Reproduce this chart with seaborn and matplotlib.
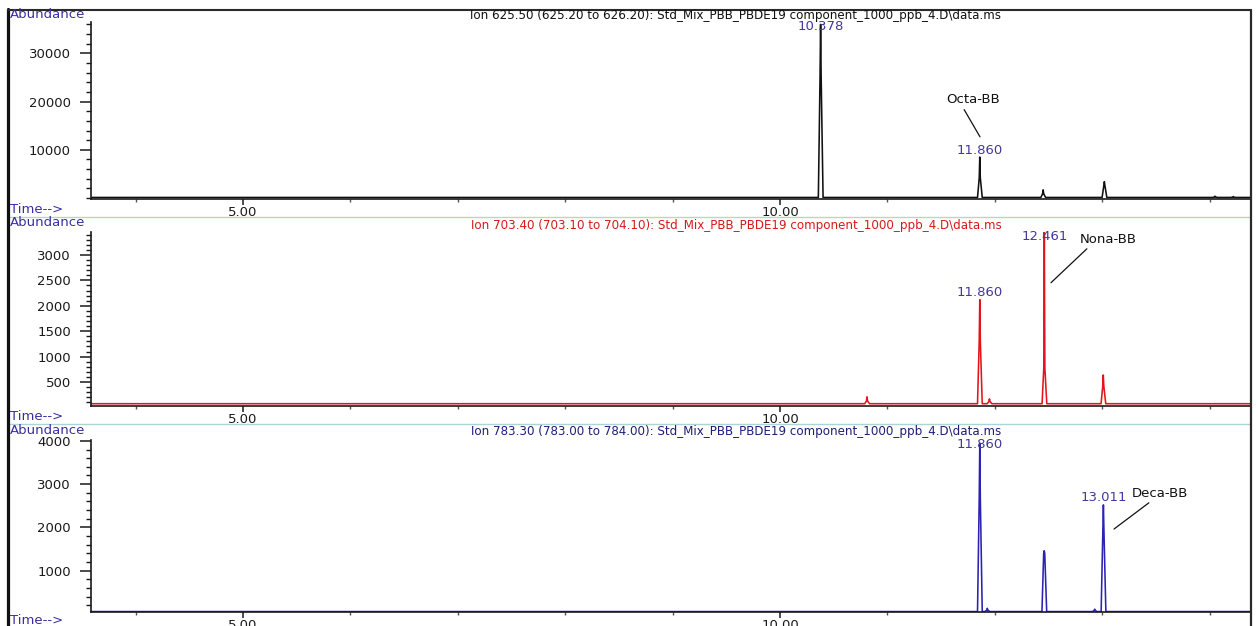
import numpy as np
import pandas as pd
import matplotlib
matplotlib.use("Agg")
import matplotlib.pyplot as plt
from matplotlib.ticker import FixedLocator, MultipleLocator, NullFormatter
from matplotlib.lines import Line2D
import seaborn as sns

# ---------------------------------------------------------------------------
# Extracted-ion chromatograms, Std_Mix_PBB_PBDE19 component 1000 ppb
# retention time in minutes, abundance in counts
# ---------------------------------------------------------------------------
ion_titles = [
    "Ion 625.50 (625.20 to 626.20): Std_Mix_PBB_PBDE19 component_1000_ppb_4.D\\data.ms",
    "Ion 703.40 (703.10 to 704.10): Std_Mix_PBB_PBDE19 component_1000_ppb_4.D\\data.ms",
    "Ion 783.30 (783.00 to 784.00): Std_Mix_PBB_PBDE19 component_1000_ppb_4.D\\data.ms",
]

# Ion 625.50
rt_625 = [10.378, 11.860, 12.45, 13.02, 14.05, 14.22]
apex_625 = [36000, 8500, 1700, 3400, 380, 300]
shoulder_625 = [25500, 4200, 900, 2600, 220, 180]
baseline_625 = 120
labelled_625 = [10.378, 11.860]

# Ion 703.40
rt_703 = [10.81, 11.860, 11.95, 12.461, 13.01]
apex_703 = [210, 2120, 170, 3450, 640]
shoulder_703 = [130, 1320, 120, 780, 420]
baseline_703 = 75
labelled_703 = [11.860, 12.461]

# Ion 783.30
rt_783 = [11.860, 11.93, 12.46, 12.93, 13.011]
apex_783 = [3950, 130, 1460, 110, 2520]
shoulder_783 = [2700, 90, 1400, 80, 1940]
baseline_783 = 55
labelled_783 = [11.860, 13.011]

# y-axis tick values
yticks_625 = [10000, 20000, 30000]
yticks_703 = [500, 1000, 1500, 2000, 2500, 3000]
yticks_783 = [1000, 2000, 3000, 4000]

# x-axis tick labels
xtick_values = [5.0, 10.0]
xtick_labels = ["5.00", "10.00"]

# compound names marked on the traces
compounds = ["Octa-BB", "Nona-BB", "Deca-BB"]

# ---------------------------------------------------------------------------
W, H = 1258, 626
T0, T1 = 3.585, 14.376

sns.set_theme(style="white")
plt.rcParams["font.family"] = ["DejaVu Sans"]

fig = plt.figure(figsize=(W / 100, H / 100), dpi=100)
fig.patch.set_facecolor("white")


def axes_rect(left, top, right, bottom):
    return [left / W, 1 - bottom / H, (right - left) / W, (bottom - top) / H]


def build_trace(rts, apex, shoulder, base):
    t, y = [T0], [base]
    for r, h, s in sorted(zip(rts, apex, shoulder)):
        t += [r - 0.021, r - 0.005, r, r + 0.005, r + 0.023]
        y += [base, s, h, s, base]
    t.append(T1)
    y.append(base)
    return pd.DataFrame({"time": t, "abundance": y})


panels = [
    dict(rect=(91, 22, 1250, 199), ylim=(-200, 36500), rts=rt_625, apex=apex_625,
         shoulder=shoulder_625, base=baseline_625, labelled=labelled_625,
         yticks=yticks_625, yminor=2000, color="#111111", title_color="#111111",
         title_y=16, abund_y=15, time_y=209),
    dict(rect=(91, 232, 1250, 406), ylim=(30, 3450), rts=rt_703, apex=apex_703,
         shoulder=shoulder_703, base=baseline_703, labelled=labelled_703,
         yticks=yticks_703, yminor=100, color="#e4141c", title_color="#d41a1a",
         title_y=226, abund_y=223, time_y=416),
    dict(rect=(91, 440, 1250, 612), ylim=(45, 4020), rts=rt_783, apex=apex_783,
         shoulder=shoulder_783, base=baseline_783, labelled=labelled_783,
         yticks=yticks_783, yminor=200, color="#2c22b4", title_color="#1e1e78",
         title_y=432, abund_y=430, time_y=621),
]

label_blue = "#43389e"
axes_list = []

for i, p in enumerate(panels):
    ax = fig.add_axes(axes_rect(*p["rect"]))
    axes_list.append(ax)
    df = build_trace(p["rts"], p["apex"], p["shoulder"], p["base"])
    sns.lineplot(data=df, x="time", y="abundance", ax=ax, color=p["color"],
                 lw=1.15, estimator=None, sort=False, legend=False)
    ax.set_xlim(T0, T1)
    ax.set_ylim(*p["ylim"])
    ax.set_xlabel("")
    ax.set_ylabel("")
    ax.set_facecolor("none")
    for side in ("top", "right"):
        ax.spines[side].set_visible(False)
    for side in ("left", "bottom"):
        ax.spines[side].set_color("#1a1a1a")
        ax.spines[side].set_linewidth(1.2)

    ax.xaxis.set_major_locator(FixedLocator(xtick_values))
    ax.set_xticklabels(xtick_labels)
    ax.xaxis.set_minor_locator(MultipleLocator(1.0))
    ax.yaxis.set_major_locator(FixedLocator(p["yticks"]))
    ax.set_yticklabels([str(v) for v in p["yticks"]])
    ax.yaxis.set_minor_locator(MultipleLocator(p["yminor"]))
    ax.yaxis.set_minor_formatter(NullFormatter())
    ax.tick_params(axis="x", which="major", direction="out", length=4.5, width=1.1,
                   color="#1a1a1a", labelsize=9.5, pad=0.3, bottom=True,
                   labelcolor="#1a1a1a")
    ax.tick_params(axis="x", which="minor", direction="out", length=2.0, width=1.0,
                   color="#555555", bottom=True)
    ax.tick_params(axis="y", which="major", direction="out", length=8, width=1.1,
                   color="#1a1a1a", labelsize=9.5, pad=6.5, left=True,
                   labelcolor="#1a1a1a")
    ax.tick_params(axis="y", which="minor", direction="out", length=3.6, width=1.0,
                   color="#1a1a1a", left=True)

    # retention-time labels above the apex (kept inside the plot area)
    top_px = p["rect"][1]
    bot_px = p["rect"][3]
    upp = (p["ylim"][1] - p["ylim"][0]) / (bot_px - top_px)
    for r in p["labelled"]:
        h = p["apex"][p["rts"].index(r)]
        y_lab = min(h + 7 * upp, p["ylim"][1] - 5 * upp)
        ax.annotate(f"{r:.3f}", xy=(r, y_lab), ha="center", va="center",
                    color=label_blue, fontsize=9.5, annotation_clip=False)

    fig.text(736 / W, 1 - p["title_y"] / H, ion_titles[i],
             ha="center", va="center", fontsize=8.6, color=p["title_color"])
    fig.text(10 / W, 1 - p["abund_y"] / H, "Abundance", ha="left", va="center",
             fontsize=9.5, color="#3b2f9e")
    fig.text(10 / W, 1 - p["time_y"] / H, "Time-->", ha="left", va="center",
             fontsize=9.5, color="#3b2f9e")

# compound annotations with leader lines
ax1, ax2, ax3 = axes_list
leader = dict(arrowstyle="-", color="#111111", lw=0.9, shrinkA=0, shrinkB=0)
ax1.annotate(compounds[0], xy=(11.862, 12700), xytext=(11.797, 20350),
             ha="center", va="center", fontsize=9.5, color="#111111",
             arrowprops=dict(leader, relpos=(0.3, 0.0)))
ax2.annotate(compounds[1], xy=(12.523, 2453), xytext=(13.054, 3312),
             ha="center", va="center", fontsize=9.5, color="#111111",
             arrowprops=dict(leader, relpos=(0.19, 0.0)), annotation_clip=False)
ax3.annotate(compounds[2], xy=(13.110, 1963), xytext=(13.538, 2794),
             ha="center", va="center", fontsize=9.5, color="#111111",
             arrowprops=dict(leader, relpos=(0.38, 0.0)))

# panel separators and window frame
fig.add_artist(Line2D([10 / W, 1250 / W], [1 - 216.5 / H] * 2,
                      transform=fig.transFigure, color="#b3dcb3", lw=1.0))
fig.add_artist(Line2D([10 / W, 1250 / W], [1 - 423.5 / H] * 2,
                      transform=fig.transFigure, color="#acd4d4", lw=1.0))
fig.add_artist(Line2D([8 / W, 8 / W], [1 - 9 / H, 0],
                      transform=fig.transFigure, color="#111111", lw=2.3))
fig.add_artist(Line2D([8 / W, 1251 / W], [1 - 9.5 / H] * 2,
                      transform=fig.transFigure, color="#2a2a2a", lw=1.5))
fig.add_artist(Line2D([1251 / W, 1251 / W], [1 - 9.5 / H, 0],
                      transform=fig.transFigure, color="#2a2a2a", lw=1.6))

fig.savefig("out.png", dpi=100, facecolor="white")
